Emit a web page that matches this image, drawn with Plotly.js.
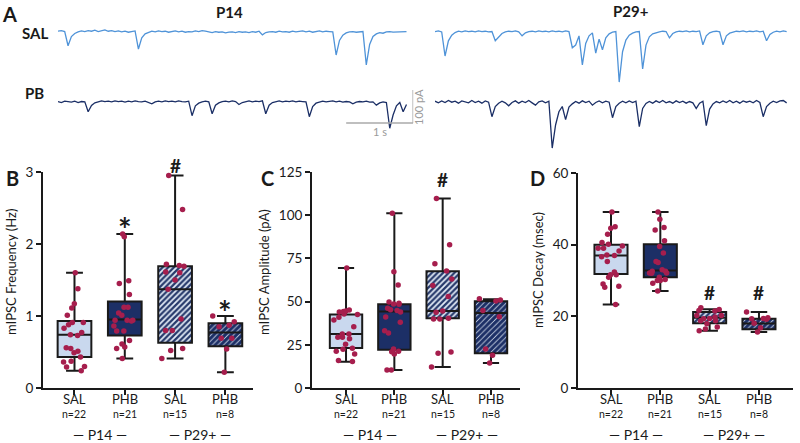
<!DOCTYPE html>
<html>
<head>
<meta charset="utf-8">
<script src="https://cdn.plot.ly/plotly-3.0.1.min.js"></script>
<style>
  html, body { margin: 0; padding: 0; background: #fff; }
  #chart { width: 800px; height: 443px; }
</style>
</head>
<body>
<div id="chart"></div>
<script>
// ---- panel A: example traces (pA, one sample every 50 ms) ----
var sampleStep = 0.05;
var traceSalP14 = [2,4,1,-42,-14,-5,0,3,1,4,2,5,1,3,6,2,4,1,3,0,2,-1,1,3,-52,-18,-6,-1,2,0,3,1,2,-1,1,3,0,2,-1,1,
  0,3,1,4,2,0,-2,1,-1,0,-3,-1,0,-2,1,-1,0,-2,1,-1,2,-9,-2,0,1,-1,2,0,1,-1,2,0,1,3,0,2,-1,1,3,0,
  2,1,0,-70,-26,-10,-3,0,1,-1,0,1,-100,-38,-14,-6,-2,-4,0,1,-1,0,1,0,1];
var tracePbP14 = [1,-2,2,0,-1,2,-2,1,0,-30,-11,-3,1,3,1,2,0,3,1,2,-1,2,0,3,1,0,2,-1,-6,0,2,0,3,1,2,0,3,1,0,2,
  -42,-12,-4,0,2,0,-36,-10,-3,1,2,0,3,1,-8,-2,1,3,0,2,1,3,-36,-10,-2,1,3,0,2,1,3,0,2,1,0,-45,-14,-4,0,2,
  0,1,3,0,2,-1,1,0,-6,-1,1,0,2,-1,0,-10,-3,0,-2,-80,-40,-12,-2,-30,-8];
var traceSalP29 = [1,3,0,-73,-27,-10,-2,2,0,3,1,2,0,3,1,2,0,1,-27,-15,-5,0,2,1,3,0,-12,-3,1,2,0,3,1,2,0,3,1,2,0,3,
  1,-48,-40,-12,-100,-35,-12,-3,-64,-22,-54,-18,-6,-1,1,-152,-60,-25,-10,-4,0,1,-112,-40,-15,-6,-2,0,2,1,
  -18,-5,0,2,1,3,0,2,1,3,-39,-12,-3,1,2,0,-39,-12,-4,0,2,1,3,0,2,1,3,0,2,-27,-8,-1,2,0,3,1];
var tracePbP29 = [2,-3,3,-2,4,-1,2,-4,3,0,-3,4,-2,2,-4,3,-1,-45,-14,-4,2,-3,-12,-2,3,-4,2,-2,4,-3,-10,0,3,-3,2,
  -140,-70,-30,-14,-54,-16,-6,1,-4,3,-2,2,-10,-2,3,-3,2,-1,-48,-14,-4,2,-3,3,-2,2,-75,-20,-5,1,-4,3,-2,4,-3,
  1,-4,3,-2,2,-4,1,-3,-20,-4,2,-72,-22,-6,1,-3,3,-2,4,-3,2,-4,3,-1,2,-3,4,-2,-45,-14,-4,2,-2,3,4,-3];

// ---- panels B-D ----
var groupNames = ['SAL', 'PHB', 'SAL', 'PHB'];
var groupN = ['n=22', 'n=21', 'n=15', 'n=8'];
var ageNames = ['P14', 'P29+'];

var freqSalP14 = [1.60,1.38,1.11,1.17,1.01,0.91,0.83,0.88,0.91,0.74,0.73,0.77,0.55,0.49,0.51,0.56,0.43,0.37,0.36,0.30,0.29,0.24];
var freqPhbP14 = [2.14,2.10,1.45,1.49,1.30,1.12,1.12,1.04,0.94,0.93,0.94,0.94,1.01,0.86,0.79,0.79,0.66,0.57,0.61,0.55,0.41];
var freqSalP29 = [2.95,2.48,1.70,1.72,1.69,1.61,1.60,1.50,1.37,0.96,0.80,0.80,0.55,0.52,0.41];
var freqPhbP29 = [1.00,0.87,0.92,0.85,0.69,0.69,0.54,0.22];
var freqMin = [0.24,0.41,0.41,0.22];
var freqQ1 = [0.43,0.73,0.63,0.58];
var freqMedian = [0.74,0.95,1.37,0.77];
var freqQ3 = [0.93,1.20,1.69,0.90];
var freqMax = [1.60,2.14,2.95,1.00];

var ampSalP14 = [69.4,45.1,44.2,42.8,42.6,44.0,44.6,40.9,39.4,35.5,31.3,31.3,29.3,28.5,29.3,25.3,23.0,22.4,21.3,19.7,15.4,15.9];
var ampPhbP14 = [101.1,67.3,59.6,49.8,48.6,48.4,49.0,45.3,44.0,44.9,46.1,41.1,38.0,33.2,31.9,22.6,21.0,19.7,21.2,10.4,10.4];
var ampSalP29 = [109.6,82.9,71.9,67.7,63.1,59.3,53.0,44.6,43.8,40.3,39.9,39.9,20.8,20.1,12.2];
var ampPhbP29 = [51.7,50.3,50.9,44.9,41.3,22.6,18.9,14.5];
var ampMin = [15.2,10.4,12.2,14.5];
var ampQ1 = [23.2,22.2,40.3,20.1];
var ampMedian = [31.3,44.2,44.6,43.4];
var ampQ3 = [42.6,48.4,67.5,50.2];
var ampMax = [69.4,101.1,109.6,51.3];

var decaySalP14 = [49.1,45.0,44.6,42.9,40.1,40.6,39.0,39.0,39.6,38.2,37.1,36.6,37.0,35.3,32.4,31.6,31.6,30.9,28.4,29.0,28.1,23.3];
var decayPhbP14 = [49.1,47.1,44.8,44.1,41.1,39.5,37.7,35.0,35.3,32.6,32.6,33.0,32.1,32.0,32.1,30.3,30.9,30.0,29.2,30.0,27.1];
var decaySalP29 = [21.6,21.9,22.4,21.5,20.2,20.2,19.8,19.4,19.3,18.8,18.8,17.9,17.0,16.5,16.0];
var decayPhbP29 = [21.2,19.3,19.2,19.4,19.6,18.1,16.8,15.6];
var decayMin = [23.3,27.1,16.0,15.6];
var decayQ1 = [31.8,30.9,18.1,16.4];
var decayMedian = [37.0,32.8,19.6,18.0];
var decayQ3 = [40.0,40.1,21.2,19.3];
var decayMax = [49.1,49.1,22.0,21.2];

var W = 800, H = 443;
var FONT = 'Lato, "Open Sans", sans-serif';
var INK = '#1a1a1a';
var DOT = '#a61e4d';
var LIGHT = '#c9d8ee';
var PALE = '#e4ecf7';
var NAVY = '#1c2f66';

// fill of each box: solid for P14, hatched for P29+
var boxFills = [
    { color: LIGHT, shape: '', fg: LIGHT, solidity: 0.4 },
    { color: NAVY, shape: '', fg: NAVY, solidity: 0.4 },
    { color: PALE, shape: '/', fg: '#26396b', solidity: 0.56 },
    { color: PALE, shape: '/', fg: NAVY, solidity: 0.8 }
];

function px(v) { return v / W; }
function py(v) { return 1 - v / H; }

function times(arr) { return arr.map(function (_, i) { return i * sampleStep; }); }

function ephysTrace(vals, xa, ya, color) {
    return {
        type: 'scatter', mode: 'lines', x: times(vals), y: vals,
        xaxis: xa, yaxis: ya,
        line: { color: color, width: 1.3 },
        hoverinfo: 'skip', showlegend: false
    };
}

function boxPanel(ax, groups, lo, q1, med, q3, hi) {
    var xa = 'x' + ax, ya = 'y' + ax;
    var pos = [0, 1, 2, 3];
    var out = [];
    boxFills.forEach(function (f, i) {
        out.push({
            type: 'bar', x: [pos[i]], base: [q1[i]], y: [q3[i] - q1[i]],
            width: 0.67, xaxis: xa, yaxis: ya, hoverinfo: 'skip', showlegend: false,
            marker: {
                color: f.color,
                line: { width: 0 },
                pattern: { shape: f.shape, fillmode: 'overlay', fgcolor: f.fg, fgopacity: 1, size: 4, solidity: f.solidity }
            }
        });
    });
    out.push({
        type: 'box', x: pos, q1: q1, median: med, q3: q3, lowerfence: lo, upperfence: hi,
        width: 0.67, whiskerwidth: 0.5, boxpoints: false,
        fillcolor: 'rgba(0,0,0,0)', line: { color: INK, width: 2 },
        xaxis: xa, yaxis: ya, hoverinfo: 'skip', showlegend: false
    });
    var gx = [], gy = [];
    groups.forEach(function (g, i) { g.forEach(function (v) { gx.push(i); gy.push(v); }); });
    out.push({
        type: 'box', x: gx, y: gy, boxpoints: 'all', jitter: 0.8, pointpos: 0,
        width: 0.67, fillcolor: 'rgba(0,0,0,0)', line: { width: 0, color: 'rgba(0,0,0,0)' },
        marker: { color: DOT, size: 5.5 },
        xaxis: xa, yaxis: ya, hoverinfo: 'skip', showlegend: false
    });
    return out;
}

var data = [
    ephysTrace(traceSalP14, 'x', 'y', '#4f93d8'),
    ephysTrace(traceSalP29, 'x2', 'y', '#4f93d8'),
    ephysTrace(tracePbP14, 'x', 'y2', '#1b2f66'),
    ephysTrace(tracePbP29, 'x2', 'y2', '#1b2f66')
].concat(
    boxPanel(3, [freqSalP14, freqPhbP14, freqSalP29, freqPhbP29], freqMin, freqQ1, freqMedian, freqQ3, freqMax),
    boxPanel(4, [ampSalP14, ampPhbP14, ampSalP29, ampPhbP29], ampMin, ampQ1, ampMedian, ampQ3, ampMax),
    boxPanel(5, [decaySalP14, decayPhbP14, decaySalP29, decayPhbP29], decayMin, decayQ1, decayMedian, decayQ3, decayMax)
);

function catAxis(x0, x1, r0, r1, anchor) {
    return {
        domain: [px(x0), px(x1)], range: [r0, r1], anchor: anchor,
        showline: true, linecolor: INK, linewidth: 2, mirror: false,
        ticks: 'outside', ticklen: 5, tickwidth: 2, tickcolor: INK,
        tickvals: [0, 1, 2, 3], showticklabels: false,
        showgrid: false, zeroline: false, fixedrange: true
    };
}
function valAxis(top, r1, step, anchor) {
    return {
        domain: [py(388), py(top)], range: [0, r1], anchor: anchor,
        showline: true, linecolor: INK, linewidth: 2,
        ticks: 'outside', ticklen: 5, tickwidth: 2, tickcolor: INK,
        dtick: step, tick0: 0,
        tickfont: { family: FONT, size: 13.5, color: INK },
        showgrid: false, zeroline: false, fixedrange: true
    };
}

var annotations = [];
function label(text, x, y, size, opts) {
    var a = {
        text: text, x: px(x), y: py(y), xref: 'paper', yref: 'paper',
        showarrow: false, xanchor: 'center', yanchor: 'middle',
        font: { family: FONT, size: size, color: INK }
    };
    for (var k in (opts || {})) { a[k] = opts[k]; }
    annotations.push(a);
}
function dataLabel(text, xa, xv, y, size) {
    annotations.push({
        text: text, x: xv, y: py(y), xref: xa, yref: 'paper',
        showarrow: false, xanchor: 'center', yanchor: 'middle',
        font: { family: FONT, size: size, color: INK }
    });
}

// panel A labels
label('<b>A</b>', 9, 14, 20);
label('<b>P14</b>', 229, 12, 15);
label('<b>P29+</b>', 631, 11, 15);
label('<b>SAL</b>', 35, 33, 15);
label('<b>PB</b>', 34, 93, 15);
label('1 s', 380, 131, 11, { font: { family: FONT, size: 11, color: '#9a9a9a' } });
label('100 pA', 419, 107, 11, { textangle: -90, font: { family: FONT, size: 11, color: '#9a9a9a' } });

// panel letters and y titles
label('<b>B</b>', 12, 178, 20);
label('<b>C</b>', 267, 178, 20);
label('<b>D</b>', 537, 178, 20);
label('mIPSC Frequency (Hz)', 11, 272, 13, { textangle: -90 });
label('mIPSC Amplitude (pA)', 264, 272, 13, { textangle: -90 });
label('mIPSC Decay (msec)', 538, 270, 13, { textangle: -90 });

// significance marks
dataLabel('<b>*</b>', 'x3', 1, 229, 32);
dataLabel('<b>#</b>', 'x3', 2, 165, 19);
dataLabel('<b>*</b>', 'x3', 3, 312, 32);
dataLabel('<b>#</b>', 'x4', 2, 180, 19);
dataLabel('<b>#</b>', 'x5', 2, 292, 19);
dataLabel('<b>#</b>', 'x5', 3, 292, 19);

// category, n and age group labels under each panel
['x3', 'x4', 'x5'].forEach(function (xa) {
    groupNames.forEach(function (g, i) {
        dataLabel(g, xa, i, 399, 13);
        dataLabel(groupN[i], xa, i, 414, 10.5);
    });
    dataLabel('\u2014 ' + ageNames[0] + ' \u2014', xa, 0.5, 434, 14);
    dataLabel('\u2014 ' + ageNames[1] + ' \u2014', xa, 2.5, 434, 14);
});

var hidden = { visible: false, fixedrange: true, showgrid: false, zeroline: false };

var layout = {
    width: W, height: H,
    margin: { l: 0, r: 0, t: 0, b: 0 },
    paper_bgcolor: '#fff', plot_bgcolor: 'rgba(0,0,0,0)',
    font: { family: FONT, color: INK },
    showlegend: false,
    barmode: 'overlay', boxmode: 'overlay',
    xaxis: Object.assign({ domain: [px(58), px(413.2)], range: [0, 5.3], anchor: 'y' }, hidden),
    xaxis2: Object.assign({ domain: [px(435), px(790)], range: [0, 5.3], anchor: 'y' }, hidden),
    yaxis: Object.assign({ domain: [py(90), py(20)], range: [-176, 36], anchor: 'x' }, hidden),
    yaxis2: Object.assign({ domain: [py(155), py(88)], range: [-161, 42], anchor: 'x' }, hidden),
    xaxis3: catAxis(43, 253, -0.626, 3.549, 'y3'),
    yaxis3: valAxis(172, 3, 1, 'x3'),
    xaxis4: catAxis(312, 520, -0.704, 3.6, 'y4'),
    yaxis4: valAxis(172, 125, 25, 'x4'),
    xaxis5: catAxis(578, 793, -0.669, 3.69, 'y5'),
    yaxis5: valAxis(173, 60, 20, 'x5'),
    shapes: [
        { type: 'line', xref: 'x', yref: 'y2', x0: 4.3, x1: 5.3, y0: -64, y1: -64, line: { color: '#aaaaaa', width: 1.5 } },
        { type: 'line', xref: 'x', yref: 'y2', x0: 5.3, x1: 5.3, y0: -64, y1: 36, line: { color: '#aaaaaa', width: 1.5 } }
    ],
    annotations: annotations
};

Plotly.newPlot('chart', data, layout, { staticPlot: true, displayModeBar: false });
</script>
</body>
</html>
